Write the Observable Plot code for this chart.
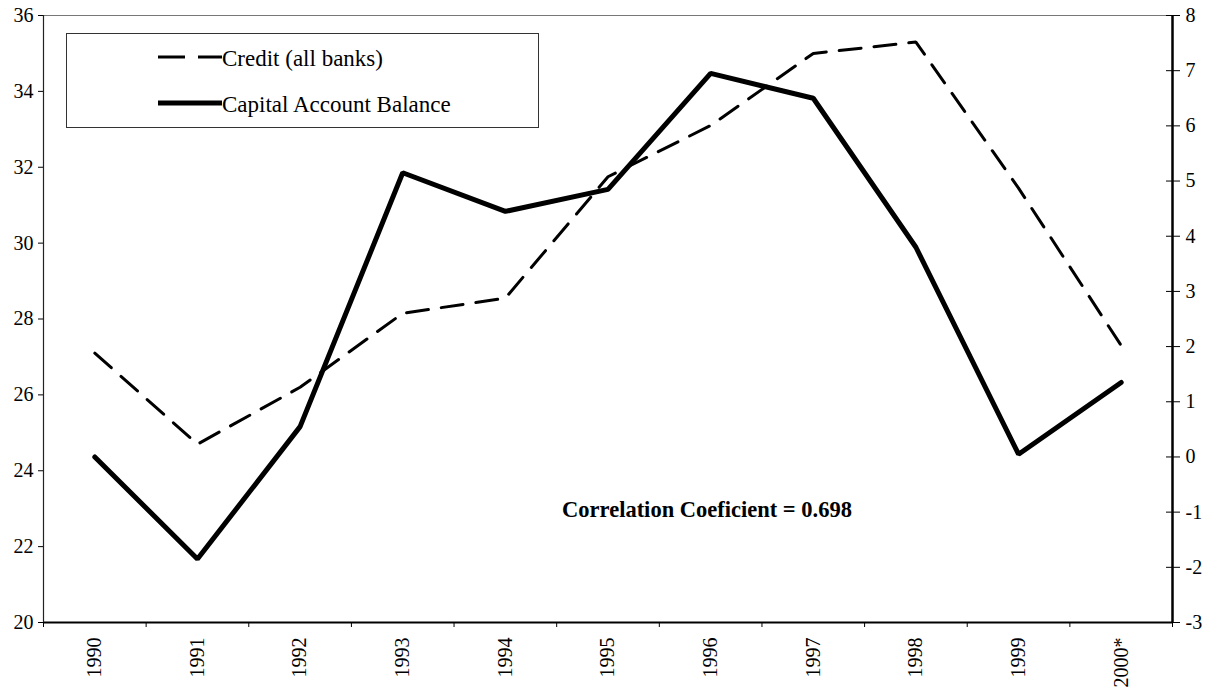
<!DOCTYPE html>
<html>
<head>
<meta charset="utf-8">
<script src="https://cdn.jsdelivr.net/npm/d3@7"></script>
<script src="https://cdn.jsdelivr.net/npm/@observablehq/plot@0.6"></script>
<style>
  html, body { margin: 0; padding: 0; background: #fff; }
  #wrap { position: relative; width: 1211px; height: 688px; font-family: "Liberation Serif", serif; }
  #legend { position: absolute; left: 66px; top: 33px; }
  #corr { position: absolute; left: 707px; top: 497px; transform: translateX(-50%); font: bold 22.5px "Liberation Serif", serif; white-space: nowrap; color: #000; line-height: 26px; }
  #chart svg text { font-size: 20px; }
</style>
</head>
<body>
<div id="wrap">
  <div id="chart"></div>
  <svg id="legend" width="474" height="96">
    <rect x="0.5" y="0.5" width="472" height="94" fill="#fff" stroke="#333" stroke-width="1"></rect>
    <line x1="92" x2="156" y1="24" y2="24" stroke="#000" stroke-width="3" stroke-dasharray="27,13"></line>
    <text x="156" y="33" font-family="Liberation Serif" font-size="23">Credit (all banks)</text>
    <line x1="92" x2="156" y1="70" y2="70" stroke="#000" stroke-width="5"></line>
    <text x="156" y="79" font-family="Liberation Serif" font-size="23">Capital Account Balance</text>
  </svg>
  <div id="corr">Correlation Coeficient = 0.698</div>
</div>
<script>
const years = ["1990","1991","1992","1993","1994","1995","1996","1997","1998","1999","2000*"];
const credit = [27.1, 24.7, 26.2, 28.15, 28.55, 31.75, 33.1, 35.0, 35.3, 31.45, 27.3];
const capital = [0.0, -1.85, 0.55, 5.15, 4.45, 4.85, 6.95, 6.5, 3.8, 0.05, 1.35];
const leftTicks = [20, 22, 24, 26, 28, 30, 32, 34, 36];
const rightTicks = [-3, -2, -1, 0, 1, 2, 3, 4, 5, 6, 7, 8];

const leftDomain = [20, 36];
const rightDomain = [-3, 8];
const toLeft = v => leftDomain[0] + (v - rightDomain[0]) * (leftDomain[1] - leftDomain[0]) / (rightDomain[1] - rightDomain[0]);
const toRight = v => rightDomain[0] + (v - leftDomain[0]) * (rightDomain[1] - rightDomain[0]) / (leftDomain[1] - leftDomain[0]);

const idx = years.map((_, i) => i);
const bounds = [...idx.map(i => i - 0.5), years.length - 0.5];
const creditData = years.map((y, i) => ({i, v: credit[i]}));
const capitalData = years.map((y, i) => ({i, v: toLeft(capital[i])}));

const chart = Plot.plot({
  width: 1211,
  height: 688,
  marginLeft: 43,
  marginRight: 39,
  marginTop: 15,
  marginBottom: 66,
  style: {fontFamily: "Liberation Serif", fontSize: "20px", color: "#000", background: "#fff"},
  x: {type: "linear", domain: [-0.5, years.length - 0.5]},
  y: {domain: leftDomain},
  marks: [
    Plot.frame({stroke: "#777", strokeWidth: 1}),
    Plot.ruleY([leftDomain[0]], {stroke: "#000", strokeWidth: 2}),
    Plot.ruleX([years.length - 0.5], {stroke: "#000", strokeWidth: 2.5}),
    Plot.ruleX([-0.5], {stroke: "#222", strokeWidth: 1.2}),
    Plot.axisY({anchor: "left", ticks: leftTicks, tickSize: 5, tickPadding: 5, tickFormat: d => String(d), label: null}),
    Plot.axisY({anchor: "right", ticks: rightTicks.map(toLeft), tickSize: 7, tickPadding: 6, tickFormat: d => String(Math.round(toRight(d))), label: null}),
    Plot.axisY({anchor: "right", ticks: rightTicks.map(toLeft), tickSize: -7, tickFormat: () => "", label: null}),
    Plot.axisX({anchor: "bottom", ticks: idx, tickSize: 0, tickPadding: 15, tickRotate: -90, tickFormat: i => years[i], label: null}),
    Plot.axisX({anchor: "bottom", ticks: bounds, tickSize: 5, tickFormat: () => "", label: null}),
    Plot.line(creditData, {x: "i", y: "v", stroke: "#000", strokeWidth: 3, strokeDasharray: "22,13", strokeLinejoin: "miter"}),
    Plot.line(capitalData, {x: "i", y: "v", stroke: "#000", strokeWidth: 5, strokeLinejoin: "miter"})
  ]
});
document.getElementById("chart").appendChild(chart);
</script>
</body>
</html>
